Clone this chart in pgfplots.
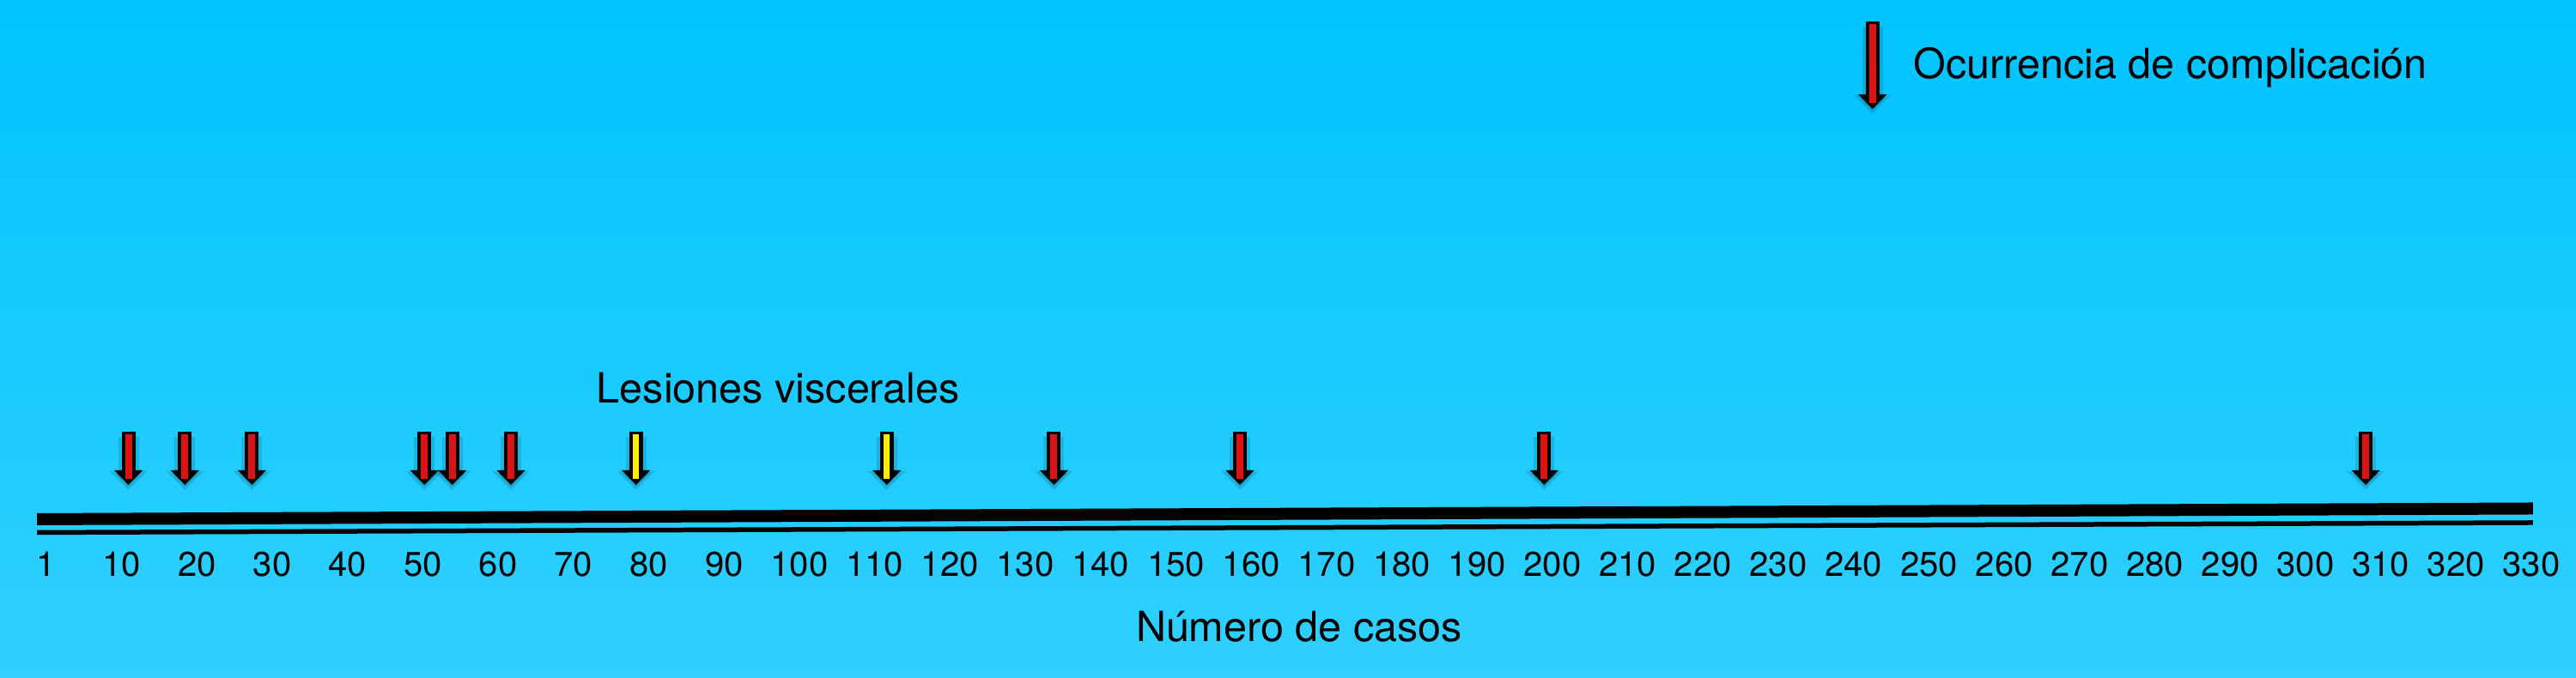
\documentclass[border=0pt]{standalone}
\usepackage{fontspec}
\setmainfont{TeX Gyre Heros}
\usepackage{pgfplots}
\usepackage{pgfplotstable}
\pgfplotsset{compat=1.18}
\usetikzlibrary{arrows.meta}

\definecolor{bgtop}{RGB}{0,195,255}
\definecolor{bgbot}{RGB}{48,208,255}
\definecolor{arrred}{RGB}{222,18,18}
\definecolor{arryel}{RGB}{255,238,0}

% complicaciones (caso, altura de la base de la flecha)
\pgfplotstableread{
x y
10.9 287
18.4 287
27.3 287
50.2 287
53.9 287
61.7 287
133.8 287
158.5 287
198.9 287
308.0 287
}\redarrows
% lesiones viscerales
\pgfplotstableread{
x y
78.3 287
111.6 287
}\yelarrows

\tikzset{
  shaftout/.style={black, line width=0.16cm, -{Triangle[width=0.32cm,length=0.17cm]}},
  shadow/.style={black, opacity=0.12, line width=0.24cm, -{Triangle[width=0.42cm,length=0.22cm]}},
}

\begin{document}
\begin{tikzpicture}
\begin{axis}[
  scale only axis, width=30cm, height=7.9cm,
  xmin=-6.157, xmax=335.92, ymin=0, ymax=790,
  axis line style={draw=none}, tick style={draw=none}, major tick length=0pt,
  axis background/.style={top color=bgtop, bottom color=bgbot},
  ytick=\empty,
  xtick={0,10,...,330},
  xticklabels={1,10,20,30,40,50,60,70,80,90,100,110,120,130,140,150,160,170,180,190,200,210,220,230,240,250,260,270,280,290,300,310,320,330},
  xticklabel style={anchor=base, yshift=1.18cm, inner sep=0pt, font=\fontsize{11.4}{13}\selectfont},
  xlabel={Número de casos},
  xlabel style={at={(rel axis cs:0.5043,0)}, anchor=base, yshift=0.42cm, inner sep=0pt, font=\fontsize{13.8}{16}\selectfont},
  clip=false,
]
% linea de casos
\addplot[black, line width=0.14cm, line cap=butt] coordinates {(-1.25,185) (330.2,197.5)};
\addplot[black, line width=0.055cm, line cap=butt] coordinates {(-1.25,169.5) (330.2,181)};

% sombras
\addplot[shadow, quiver={u=0, v=-62}] table[x=x, y expr=\thisrow{y}-6] {\redarrows};
\addplot[shadow, quiver={u=0, v=-62}] table[x=x, y expr=\thisrow{y}-6] {\yelarrows};

% flechas
\addplot[shaftout, quiver={u=0, v=-62}] table {\redarrows};
\addplot[arrred, line width=0.08cm, quiver={u=0, v=-52}] table[x=x, y expr=\thisrow{y}-3] {\redarrows};
\addplot[shaftout, quiver={u=0, v=-62}] table {\yelarrows};
\addplot[arryel, line width=0.07cm, quiver={u=0, v=-52}] table[x=x, y expr=\thisrow{y}-3] {\yelarrows};

% leyenda
\addplot[shadow, quiver={u=0, v=-102}] coordinates {(242.5,759)};
\addplot[shaftout, quiver={u=0, v=-102}] coordinates {(242.5,765)};
\addplot[arrred, line width=0.08cm, quiver={u=0, v=-92}] coordinates {(242.5,762)};
\node[anchor=base west, inner sep=0pt, font=\fontsize{13.8}{16}\selectfont] at (axis cs:247.9,698) {Ocurrencia de complicación};

\node[anchor=base west, inner sep=0pt, font=\fontsize{13.8}{16}\selectfont] at (axis cs:73.0,320) {Lesiones viscerales};
\end{axis}
\end{tikzpicture}
\end{document}
